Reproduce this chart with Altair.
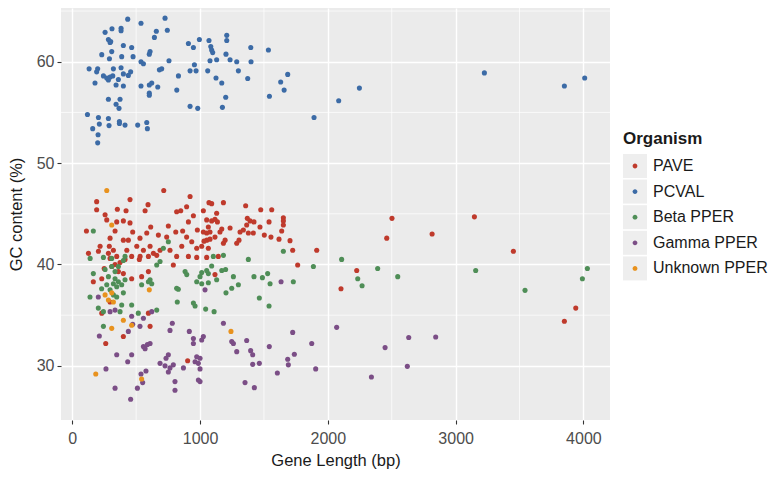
import altair as alt
import pandas as pd

organisms = ["PAVE", "PCVAL", "Beta PPER", "Gamma PPER", "Unknown PPER"]
colors = ["#BF3A2C", "#3C6BA6", "#4F8E57", "#7B4E86", "#E8921E"]

# (gene length bp, GC %)
pave_points = [
    (716, 47.3), (452, 46.4), (191, 46.2), (191, 45.4), (353, 45.45), (421, 45.3), (593, 45.9), (570, 45.3),
    (257, 44.9), (270, 44.4), (348, 44.2), (400, 44.3), (452, 44.1), (111, 43.3), (335, 43.3), (473, 43.2),
    (400, 42.4), (296, 42.6), (290, 41.8), (439, 42.4), (530, 42.6), (583, 43.1), (614, 43.7), (752, 43.8),
    (674, 42.9), (739, 42.7), (817, 45.2), (849, 45.3), (895, 45.7), (922, 46.7), (810, 43.2), (864, 43.3),
    (909, 44.2), (948, 44.8), (1026, 45.3), (1070, 46.1), (979, 43.4), (1026, 43.2), (1065, 43.7), (895, 42.7),
    (935, 42.25), (857, 41.8), (974, 41.6), (1053, 42.4), (1065, 41.6), (218, 41.8), (127, 41.1), (205, 41.3),
    (283, 41.1), (322, 41.4), (348, 40.8), (427, 41.4), (505, 41.8), (557, 41.4), (609, 41.8), (635, 41.1),
    (687, 41.4), (531, 40.8), (596, 40.8), (765, 41.4),
    (1091, 46.0), (1183, 46.1), (1357, 45.8), (1475, 45.4), (1561, 45.4), (1130, 45.05), (1052, 44.4), (1091, 44.3),
    (1117, 44.45), (1136, 44.2), (1370, 44.55), (1391, 44.3), (1422, 44.2), (1540, 44.2), (1652, 44.6), (1652, 44.3),
    (1652, 43.9), (1639, 43.3), (1170, 43.5), (1156, 43.2), (1235, 43.6), (1365, 43.9), (1339, 43.4), (1313, 43.2),
    (1469, 43.7), (1052, 43.1), (1078, 43.2), (1078, 42.5), (1378, 43.1), (1417, 43.1), (1503, 42.9), (1555, 42.7),
    (1618, 42.5), (1704, 42.35), (1117, 42.7), (1196, 42.4), (1183, 42.1), (1287, 42.1), (1305, 42.4), (1013, 41.8),
    (1031, 42.3), (1725, 41.4), (1913, 41.4), (1143, 40.8),
    (1764, 39.95), (2103, 37.6), (2226, 39.4), (2502, 44.55), (2461, 42.6), (2816, 43.0), (3147, 44.7), (3452, 41.3),
    (3851, 34.4), (3940, 35.7), (1117, 39.0),
    (817, 40.8), (909, 40.8), (974, 40.7), (1052, 40.7), (165, 38.3), (231, 38.6), (361, 39.3), (400, 39.1),
    (465, 38.6), (543, 38.8), (596, 39.3), (791, 39.95), (231, 35.2), (609, 33.9), (400, 32.9), (262, 32.2),
    (903, 30.5), (296, 36.3), (596, 35.2), (296, 40.6), (374, 40.2), (413, 40.5), (465, 40.8), (525, 40.5),
    (661, 40.9), (335, 40.0), (250, 39.6), (310, 39.8),
]

pcval_points = [
    (434, 64.2), (538, 63.8), (726, 64.3), (744, 63.1), (257, 62.9), (311, 63.25), (382, 63.3), (382, 63.05),
    (658, 63.0), (643, 62.4), (283, 62.2), (296, 61.9), (301, 62.0), (400, 61.6), (465, 61.4), (309, 61.0),
    (231, 60.7), (291, 60.3), (387, 60.5), (476, 60.5), (609, 61.0), (603, 60.75), (538, 60.0), (557, 59.8),
    (757, 60.1), (132, 59.3), (199, 59.3), (191, 59.0), (322, 59.3), (382, 59.4), (400, 58.8), (457, 59.0),
    (439, 58.65), (682, 59.2), (700, 59.3), (244, 58.6), (270, 58.4), (296, 58.5), (317, 58.6), (283, 58.2),
    (361, 58.25), (178, 57.9), (343, 57.7), (400, 57.6), (538, 57.6), (603, 57.7), (622, 57.9), (669, 57.5),
    (603, 56.9), (603, 56.7), (831, 58.6), (818, 57.2), (283, 56.3), (374, 56.3), (343, 55.8), (366, 55.4),
    (119, 54.8), (205, 54.5), (283, 54.4), (369, 54.1), (160, 53.4), (212, 53.85), (288, 53.7), (369, 53.9),
    (413, 53.75), (512, 53.75), (583, 54.0), (588, 53.4), (202, 52.8), (199, 52.0),
    (909, 61.8), (948, 61.4), (995, 62.2), (1070, 62.1), (1084, 61.5), (1091, 61.15), (1099, 60.9), (1209, 62.6),
    (1209, 62.1), (1203, 60.75), (1235, 60.2), (1078, 60.1), (1130, 60.2), (956, 59.7), (922, 59.1), (969, 59.1),
    (1060, 59.1), (1125, 58.4), (1170, 57.9), (1201, 56.5), (922, 55.6), (982, 55.4), (1175, 55.5), (1300, 59.1),
    (1287, 60.0), (1373, 58.35), (1397, 61.4), (1399, 60.0), (1535, 61.15), (1686, 58.75), (1631, 58.0), (1658, 57.2),
    (1543, 56.6), (1892, 54.5), (2085, 56.15), (2247, 57.4), (3225, 58.9), (3851, 57.6), (4010, 58.4),
]

beta_points = [
    (165, 43.3), (752, 42.25), (713, 41.6), (413, 40.8), (140, 40.6), (244, 40.7), (309, 40.6),
    (1652, 41.3), (1104, 40.8), (1183, 40.9), (1378, 40.5), (2108, 40.5), (1887, 39.8), (1730, 38.3), (2390, 39.6),
    (2234, 38.6), (2268, 37.9), (2547, 38.8), (3157, 39.4), (3543, 37.45), (4031, 39.6), (3992, 38.6),
    (1091, 39.85), (1052, 39.4), (1013, 39.2), (1130, 38.5), (1065, 38.2), (1013, 38.1), (1170, 39.4), (1200, 39.5),
    (1261, 38.8), (1300, 38.0), (1248, 37.65), (1203, 37.2), (1422, 38.8), (1488, 38.7), (1529, 39.1), (1548, 38.1),
    (1464, 36.7), (1540, 35.9), (1044, 35.6), (1110, 35.35),
    (830, 37.55), (822, 36.3), (948, 36.2), (961, 35.9),
    (165, 39.1), (257, 39.5), (335, 38.6), (322, 38.1), (361, 38.3), (348, 37.8), (387, 38.0), (413, 38.5),
    (543, 38.0), (596, 38.3), (622, 38.1), (609, 38.5), (661, 39.95), (687, 40.3), (883, 39.3), (896, 39.0),
    (817, 37.65), (974, 38.3), (139, 36.8), (204, 35.7), (244, 35.35), (374, 35.35), (387, 36.0), (465, 36.0),
    (517, 35.2), (661, 35.5), (244, 33.9), (309, 39.8), (361, 39.8), (400, 40.4), (1000, 38.8), (1065, 39.1),
    (296, 37.5), (322, 37.0), (348, 36.8), (270, 38.0), (283, 38.8), (335, 39.3), (400, 37.2), (230, 37.6),
]

gamma_points = [
    (2448, 31.8), (2633, 32.8), (2844, 32.85), (2622, 29.95), (2341, 28.9), (1634, 38.3), (1039, 37.5), (1183, 34.2),
    (1725, 33.3), (2069, 33.8),
    (212, 32.95), (348, 31.1), (465, 31.1), (434, 30.4), (557, 31.9), (588, 32.1), (570, 31.7), (609, 32.2),
    (687, 30.25), (752, 31.1), (734, 30.75), (726, 30.0), (752, 29.4), (791, 30.1), (804, 28.45), (804, 27.6),
    (765, 29.8), (870, 29.8), (948, 32.7), (948, 32.2), (1026, 32.9), (1013, 32.55), (974, 30.9), (961, 30.4),
    (1000, 30.75), (987, 30.25), (1000, 29.7), (987, 28.6), (1000, 28.45), (264, 29.7), (335, 27.8), (510, 27.8),
    (457, 26.7), (538, 29.2), (577, 29.5), (551, 28.35), (1248, 32.4), (1261, 32.2), (1287, 31.4), (1365, 32.5),
    (1396, 31.5), (1412, 31.1), (1542, 31.9), (1412, 30.15), (1464, 30.25), (1352, 28.35), (1425, 27.85), (1605, 29.3),
    (1686, 30.65), (1738, 31.15), (1691, 30.1), (1874, 32.2), (1905, 29.7),
    (783, 34.2), (765, 33.5), (916, 33.4),
    (204, 36.8), (296, 35.35), (335, 35.5), (622, 35.35), (465, 34.9), (530, 33.9), (557, 34.7), (439, 33.4),
    (473, 34.1),
]

unknown_points = [
    (270, 47.3), (309, 43.9), (257, 37.0), (309, 37.2), (322, 36.3), (283, 36.5), (603, 37.5), (400, 34.5),
    (465, 34.0), (309, 33.7), (184, 29.2), (543, 28.7), (1242, 33.4),
]

x_major = [0, 1000, 2000, 3000, 4000]
x_minor = [500, 1500, 2500, 3500]
y_major = [30, 40, 50, 60]
y_minor = [35, 45, 55, 65]

key_names = [o + " " for o in organisms]  # key-box legend entries (labels hidden)

rows = []
for rank, (name, pts) in enumerate(zip(organisms, [pave_points, pcval_points, beta_points, gamma_points, unknown_points])):
    for bp, gc in pts:
        rows.append({"Organism": name, "OrganismKey": key_names[rank], "length": bp, "gc": gc, "rank": rank})
df = pd.DataFrame(rows)

FONT = "Liberation Sans"
x_scale = alt.Scale(domain=[-88, 4208], nice=False, zero=False)
y_scale = alt.Scale(domain=[24.66, 65.3], nice=False, zero=False)

x_axis = alt.Axis(values=x_major, format="d", title="Gene Length (bp)", grid=True, gridColor="white",
                  gridWidth=1.4, domain=False, tickColor="#333333", tickSize=4, tickWidth=1.1,
                  labelFontSize=16, labelColor="#4D4D4D", labelPadding=6, labelFont=FONT,
                  titleFontSize=16.5, titleFont=FONT, titleFontWeight="normal", titleColor="#1A1A1A",
                  titlePadding=6)
y_axis = alt.Axis(values=y_major, format="d", title="GC content (%)", grid=True, gridColor="white",
                  gridWidth=1.4, domain=False, tickColor="#333333", tickSize=4, tickWidth=1.1,
                  labelFontSize=16, labelColor="#4D4D4D", labelPadding=3, labelFont=FONT,
                  titleFontSize=16.5, titleFont=FONT, titleFontWeight="normal", titleColor="#1A1A1A",
                  titlePadding=12)

minor_x = alt.Chart(pd.DataFrame({"v": x_minor})).mark_rule(color="white", strokeWidth=0.7).encode(
    x=alt.X("v:Q", scale=x_scale, axis=x_axis))
minor_y = alt.Chart(pd.DataFrame({"v": y_minor})).mark_rule(color="white", strokeWidth=0.7).encode(
    y=alt.Y("v:Q", scale=y_scale, axis=y_axis))

dot_path = "M-1,-1M1,1M0.2,0A0.2,0.2,0,1,1,-0.2,0A0.2,0.2,0,1,1,0.2,0Z"
box_path = "M-1,-1H1V1H-1Z"

legend_base = dict(orient="none", legendX=562, legendY=123, padding=0, title="Organism",
                   titleFont=FONT, titleFontSize=17, titleFontWeight="bold",
                   titlePadding=6, labelFont=FONT, labelFontSize=16, labelOffset=6,
                   symbolSize=576, symbolStrokeWidth=0, rowPadding=1.6, symbolOpacity=1)

key_layer = alt.Chart(df).mark_point(filled=True, opacity=0, size=1).encode(
    x=alt.X("length:Q", scale=x_scale, axis=x_axis),
    y=alt.Y("gc:Q", scale=y_scale, axis=y_axis),
    color=alt.Color("OrganismKey:N", scale=alt.Scale(domain=key_names, range=["#EEEEEE"] * 5),
                    legend=alt.Legend(symbolType=box_path, labelColor="rgba(0,0,0,0)",
                                      titleColor="rgba(0,0,0,0)", **legend_base)),
)

points = alt.Chart(df).mark_circle(size=26, opacity=1).encode(
    x=alt.X("length:Q", scale=x_scale, axis=x_axis),
    y=alt.Y("gc:Q", scale=y_scale, axis=y_axis),
    fill=alt.Fill("Organism:N", scale=alt.Scale(domain=organisms, range=colors),
                  legend=alt.Legend(symbolType=dot_path, labelColor="#1A1A1A",
                                    titleColor="#1A1A1A", **legend_base)),
    order=alt.Order("rank:Q"),
)

chart = alt.layer(minor_x, minor_y, key_layer, points).properties(
    width=549, height=412,
    padding={"left": 53, "top": 0, "right": 161, "bottom": 50},
    autosize=alt.AutoSizeParams(type="none"),
    background="white",
).configure_view(fill="#EBEBEB", stroke=None)

chart.save("out.html", embed_options={"renderer": "svg", "actions": False})
